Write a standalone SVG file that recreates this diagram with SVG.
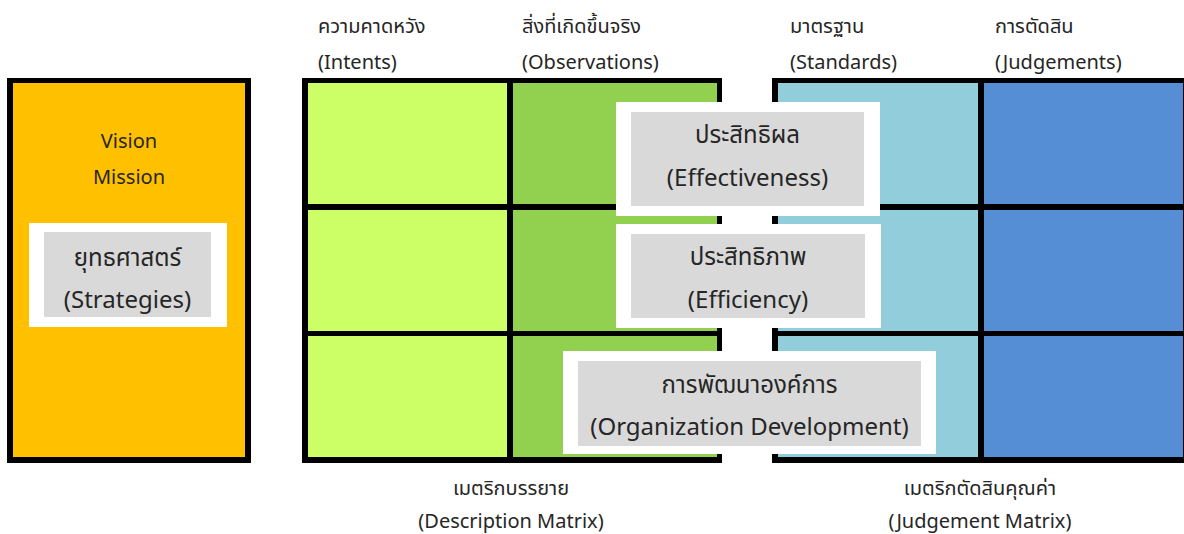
<svg xmlns="http://www.w3.org/2000/svg" width="1184" height="534" viewBox="0 0 1184 534">
  <style>
    text { font-family: "Noto Sans", "Noto Sans Thai", "Loma", "DejaVu Sans", sans-serif; fill: #262626; }
    .hdr { font-size: 20px; }
    .lbl { font-size: 20px; text-anchor: middle; }
    .big { font-size: 24px; text-anchor: middle; }
    .frame { fill: #000000; }
    .c1 { fill: #CCFF66; }
    .c2 { fill: #92D050; }
    .c3 { fill: #92CDDC; }
    .c4 { fill: #558ED5; }
    .mat { fill: #FFFFFF; }
    .pad { fill: #D9D9D9; }
  </style>

  <rect width="1184" height="534" fill="#FFFFFF"/>

  <!-- Strategy column -->
  <g id="strategy-column">
    <rect x="7" y="78" width="244" height="385" class="frame"/>
    <rect x="13" y="83" width="232" height="374" fill="#FFC000"/>
    <text x="129" y="148" class="lbl">Vision</text>
    <text x="129" y="184" class="lbl">Mission</text>
  </g>
  <g id="strategies">
    <rect x="29" y="223" width="198" height="104" class="mat"/>
    <rect x="44" y="232" width="167" height="85" class="pad"/>
    <text x="127.5" y="266" class="big">ยุทธศาสตร์</text>
    <text x="127.5" y="308" class="big">(Strategies)</text>
  </g>

  <!-- Description matrix -->
  <g id="description-matrix">
    <rect x="302" y="78" width="420" height="385" class="frame"/>
    <rect x="308" y="83" width="199" height="121" class="c1"/>
    <rect x="308" y="210" width="199" height="121" class="c1"/>
    <rect x="308" y="336" width="199" height="121" class="c1"/>
    <rect x="513" y="83" width="204" height="121" class="c2"/>
    <rect x="513" y="210" width="204" height="121" class="c2"/>
    <rect x="513" y="336" width="204" height="121" class="c2"/>
    <text x="318" y="33" class="hdr">ความคาดหวัง</text>
    <text x="318" y="69" class="hdr">(Intents)</text>
    <text x="522" y="33" class="hdr">สิ่งที่เกิดขึ้นจริง</text>
    <text x="522" y="69" class="hdr">(Observations)</text>
    <text x="511" y="495" class="lbl">เมตริกบรรยาย</text>
    <text x="511" y="528" class="lbl">(Description Matrix)</text>
  </g>

  <!-- Judgement matrix -->
  <g id="judgement-matrix">
    <rect x="772" y="78" width="414" height="385" class="frame"/>
    <rect x="778" y="83" width="200" height="121" class="c3"/>
    <rect x="778" y="210" width="200" height="121" class="c3"/>
    <rect x="778" y="336" width="200" height="121" class="c3"/>
    <rect x="984" y="83" width="199" height="121" class="c4"/>
    <rect x="984" y="210" width="199" height="121" class="c4"/>
    <rect x="984" y="336" width="199" height="121" class="c4"/>
    <text x="790" y="33" class="hdr">มาตรฐาน</text>
    <text x="790" y="69" class="hdr">(Standards)</text>
    <text x="995" y="33" class="hdr">การตัดสิน</text>
    <text x="995" y="69" class="hdr">(Judgements)</text>
    <text x="980" y="495" class="lbl">เมตริกตัดสินคุณค่า</text>
    <text x="980" y="528" class="lbl">(Judgement Matrix)</text>
  </g>

  <!-- Outcome labels bridging both matrices -->
  <g id="effectiveness">
    <rect x="616" y="102" width="264" height="114" class="mat"/>
    <rect x="631" y="112" width="233" height="94" class="pad"/>
    <text x="747.5" y="143" class="big">ประสิทธิผล</text>
    <text x="747.5" y="186" class="big">(Effectiveness)</text>
  </g>
  <g id="efficiency">
    <rect x="616" y="224" width="265" height="104" class="mat"/>
    <rect x="631" y="234" width="234" height="84" class="pad"/>
    <text x="748" y="265" class="big">ประสิทธิภาพ</text>
    <text x="748" y="308" class="big">(Efficiency)</text>
  </g>
  <g id="organization-development">
    <rect x="563" y="351" width="373" height="103" class="mat"/>
    <rect x="578" y="361" width="343" height="85" class="pad"/>
    <text x="749.5" y="393" class="big">การพัฒนาองค์การ</text>
    <text x="749.5" y="435" class="big">(Organization Development)</text>
  </g>

  <g id="connectors"></g>
</svg>
